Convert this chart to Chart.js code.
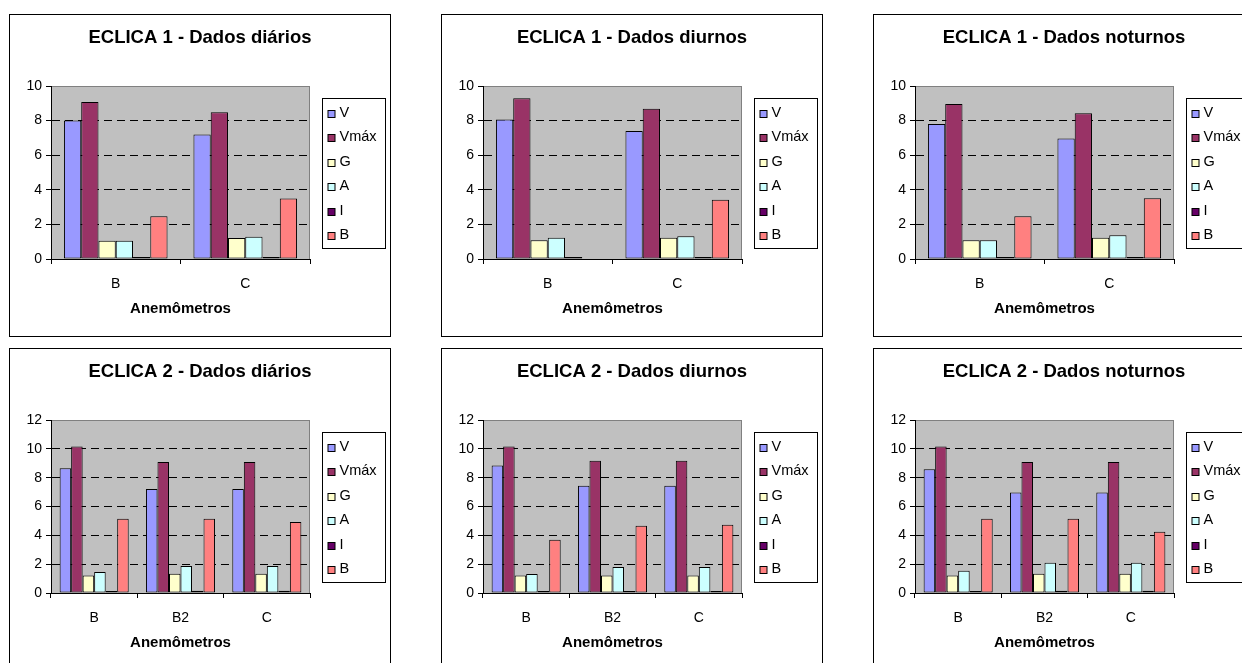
<!DOCTYPE html>
<html>
<head>
<meta charset="utf-8">
<script src="https://cdn.jsdelivr.net/npm/chart.js@4.4.1/dist/chart.umd.min.js"></script>
<style>
  html, body { margin: 0; padding: 0; background: #fff; }
  body { width: 1242px; height: 663px; overflow: hidden; position: relative; }
  .panel { position: absolute; width: 380px; height: 321px; border: 1px solid #000; background: #fff; }
  .panel canvas { display: block; }
</style>
</head>
<body>
<div class="panel" style="left:9px;top:14px"><canvas id="e1-diarios" width="380" height="321"></canvas></div>
<div class="panel" style="left:441px;top:14px"><canvas id="e1-diurnos" width="380" height="321"></canvas></div>
<div class="panel" style="left:873px;top:14px"><canvas id="e1-noturnos" width="380" height="321"></canvas></div>
<div class="panel" style="left:9px;top:348px"><canvas id="e2-diarios" width="380" height="321"></canvas></div>
<div class="panel" style="left:441px;top:348px"><canvas id="e2-diurnos" width="380" height="321"></canvas></div>
<div class="panel" style="left:873px;top:348px"><canvas id="e2-noturnos" width="380" height="321"></canvas></div>
<script>
// --- Data ---
const seriesNames = ['V', 'Vmáx', 'G', 'A', 'I', 'B'];
const seriesColors = ['#9999FF', '#993366', '#FFFFCC', '#CCFFFF', '#660066', '#FF8080'];

const eclica1Anemometers = ['B', 'C'];
const eclica2Anemometers = ['B', 'B2', 'C'];

// one array per anemometer, values in series order (V, Vmáx, G, A, I, B)
const e1DiariosB = [8.00, 9.07, 1.06, 1.06, 0.08, 2.47];
const e1DiariosC = [7.19, 8.48, 1.21, 1.29, 0.08, 3.49];
const e1DiurnosB = [8.07, 9.29, 1.08, 1.23, 0.08, null];
const e1DiurnosC = [7.40, 8.69, 1.23, 1.31, 0.08, 3.43];
const e1NoturnosB = [7.80, 8.96, 1.08, 1.08, 0.06, 2.47];
const e1NoturnosC = [6.97, 8.42, 1.23, 1.37, 0.06, 3.51];

const e2DiariosB = [8.66, 10.16, 1.22, 1.45, 0.07, 5.15];
const e2DiariosB2 = [7.21, 9.08, 1.34, 1.87, 0.16, 5.15];
const e2DiariosC = [7.21, 9.08, 1.34, 1.87, 0.16, 4.92];
const e2DiurnosB = [8.85, 10.16, 1.22, 1.32, 0.07, 3.70];
const e2DiurnosB2 = [7.44, 9.17, 1.22, 1.80, 0.07, 4.67];
const e2DiurnosC = [7.44, 9.17, 1.22, 1.80, 0.07, 4.73];
const e2NoturnosB = [8.59, 10.16, 1.22, 1.55, 0.07, 5.15];
const e2NoturnosB2 = [6.97, 9.08, 1.34, 2.10, 0.16, 5.15];
const e2NoturnosC = [6.97, 9.08, 1.34, 2.10, 0.16, 4.25];

// --- Defaults ---
Chart.defaults.font.family = 'Arial, "Liberation Sans", sans-serif';
Chart.defaults.color = '#000';

// gray plot area, like the old Excel charts
const plotBackground = {
  id: 'plotBackground',
  beforeDraw(chart) {
    const { ctx, chartArea: a } = chart;
    ctx.save();
    ctx.fillStyle = '#C0C0C0';
    ctx.fillRect(a.left, a.top, a.right - a.left, a.bottom - a.top);
    ctx.strokeStyle = '#808080';
    ctx.lineWidth = 1;
    ctx.strokeRect(Math.round(a.left) + 0.5, Math.round(a.top) + 0.5,
      Math.round(a.right - a.left) - 1, Math.round(a.bottom - a.top));
    ctx.restore();
  }
};

// boxed legend on the right of the plot area
const boxLegend = {
  id: 'boxLegend',
  afterDraw(chart) {
    const { ctx, chartArea: a } = chart;
    const rowGap = 24.5;
    const boxW = 63, boxH = 150;
    const x = Math.round(a.right + 12) + 0.5;
    const y = Math.round((a.top + a.bottom) / 2 - boxH / 2) + 0.5;
    ctx.save();
    ctx.fillStyle = '#fff';
    ctx.fillRect(x, y, boxW, boxH);
    ctx.strokeStyle = '#000';
    ctx.lineWidth = 1;
    ctx.strokeRect(x, y, boxW, boxH);
    ctx.font = '14.5px Arial, "Liberation Sans", sans-serif';
    ctx.textBaseline = 'middle';
    chart.data.datasets.forEach((ds, i) => {
      const cy = y + 14 + i * rowGap;
      ctx.fillStyle = ds.backgroundColor;
      ctx.fillRect(x + 5.5, Math.round(cy - 3) + 0.5, 7, 7);
      ctx.strokeRect(x + 5.5, Math.round(cy - 3) + 0.5, 7, 7);
      ctx.fillStyle = '#000';
      ctx.fillText(ds.label, x + 17, cy);
    });
    ctx.restore();
  }
};

const buildDatasets = (rows) => seriesNames.map((name, i) => ({
  label: name,
  data: rows.map(r => r[i]),
  backgroundColor: seriesColors[i],
  borderColor: '#000',
  borderWidth: 1,
  borderSkipped: false,
  minBarLength: 2,
  categoryPercentage: 0.8,
  barPercentage: 1.0,
}));

const makeChart = (id, title, labels, rows, yMax) => {
  new Chart(document.getElementById(id), {
    type: 'bar',
    data: { labels, datasets: buildDatasets(rows) },
    options: {
      responsive: false,
      animation: false,
      layout: { padding: 0 },
      plugins: {
        legend: { display: false },
        tooltip: { enabled: false },
        title: {
          display: true,
          text: title,
          color: '#000',
          font: { size: 18.5, weight: 'bold' },
          padding: { top: 12, bottom: 36.8 },
        },
      },
      scales: {
        x: {
          grid: { drawOnChartArea: false, drawTicks: true, tickLength: 5, tickColor: '#000', offset: true },
          border: { color: '#000', width: 1 },
          ticks: { font: { size: 14 }, padding: 11.5, color: '#000' },
          title: {
            display: true,
            text: 'Anemômetros',
            color: '#000',
            font: { size: 15, weight: 'bold' },
            padding: { top: 0, bottom: 18 },
          },
          afterFit: (s) => { s.height = 77; },
        },
        y: {
          min: 0,
          max: yMax,
          grid: {
            color: (c) => (c.tick && (c.tick.value === 0 || c.tick.value === yMax)) ? 'rgba(0,0,0,0)' : '#000',
            tickColor: '#000',
            tickLength: 5,
            tickBorderDash: [],
          },
          border: { color: '#000', width: 1, dash: [8, 5] },
          ticks: { stepSize: 2, font: { size: 14 }, padding: 4, color: '#000' },
          afterFit: (s) => { s.width = 41; },
        },
        // empty right-hand axis that only reserves room for the legend box
        legendRoom: {
          type: 'linear',
          position: 'right',
          display: true,
          grid: { display: false },
          ticks: { display: false },
          border: { display: false },
          afterFit: (s) => { s.width = 80; },
        },
      },
    },
    plugins: [plotBackground, boxLegend],
  });
};

makeChart('e1-diarios', 'ECLICA 1 - Dados diários', eclica1Anemometers, [e1DiariosB, e1DiariosC], 10);
makeChart('e1-diurnos', 'ECLICA 1 - Dados diurnos', eclica1Anemometers, [e1DiurnosB, e1DiurnosC], 10);
makeChart('e1-noturnos', 'ECLICA 1 - Dados noturnos', eclica1Anemometers, [e1NoturnosB, e1NoturnosC], 10);
makeChart('e2-diarios', 'ECLICA 2 - Dados diários', eclica2Anemometers, [e2DiariosB, e2DiariosB2, e2DiariosC], 12);
makeChart('e2-diurnos', 'ECLICA 2 - Dados diurnos', eclica2Anemometers, [e2DiurnosB, e2DiurnosB2, e2DiurnosC], 12);
makeChart('e2-noturnos', 'ECLICA 2 - Dados noturnos', eclica2Anemometers, [e2NoturnosB, e2NoturnosB2, e2NoturnosC], 12);
</script>
</body>
</html>
